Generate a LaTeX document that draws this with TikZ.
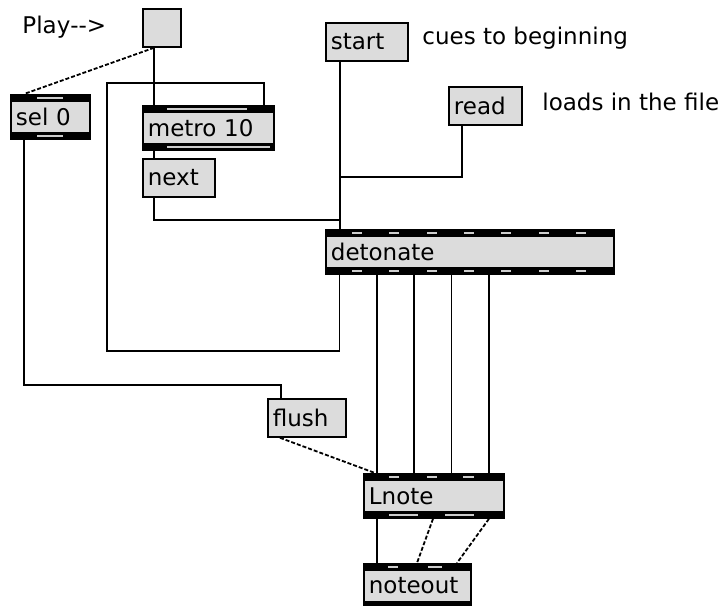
\documentclass[tikz,border=0pt]{standalone}
\usepackage{fontspec}
\newfontfamily\patchfont{DejaVu Sans}
\usetikzlibrary{calc,positioning}
\definecolor{boxgray}{RGB}{220,220,220}
\definecolor{portgray}{RGB}{205,205,205}

\begin{document}
\begin{tikzpicture}[
    x=0.5pt, y=-0.5pt,
    font=\patchfont\fontsize{11.5}{13}\selectfont,
    box/.style={draw, fill=boxgray, line width=0.9pt, anchor=north west, inner xsep=2.5pt, inner ysep=0pt, align=left, text width=#1},
    msg/.style={box=#1, minimum height=19pt},
    obj/.style={box=#1, minimum height=22pt,
        path picture={
            \fill[black] (path picture bounding box.north west) rectangle ([yshift=-3.5pt]path picture bounding box.north east);
            \fill[black] (path picture bounding box.south west) rectangle ([yshift=3.5pt]path picture bounding box.south east);
        }},
    togglebox/.style={draw, fill=boxgray, line width=0.9pt, anchor=north west, inner sep=0pt, minimum size=19pt},
    note/.style={anchor=west, inner sep=1pt},
    cord/.style={line width=0.9pt},
    slant/.style={cord, dash pattern=on 2pt off 1pt}
]
\useasboundingbox (0,0) rectangle (725,606);

\node[note] (play) at (20,27) {Play\mbox{-}\mbox{-}>};
\node[togglebox] (tog) at (142,8) {};
\node[obj=34.5pt] (sel) at (10,94) {sel 0};
\node[obj=60.5pt] (metro) at (142,105) {metro 10};
\node[msg=31pt] (next) at (142,158) {next};
\node[msg=36pt] (start) at (325,22) {start};
\node[note] (cues) at (420,38) {cues to beginning};
\node[msg=31.5pt] (read) at (448,86) {read};
\node[note] (loads) at (540,102) {loads in the file};
\node[obj=139pt] (det) at (325,229) {detonate};
\node[msg=34pt] (flush) at (267,398) {flush};
\node[obj=65pt] (lnote) at (363,473) {Lnote};
\node[obj=48.5pt] (noteout) at (363,563) {noteout};

% inlet / outlet marks
\foreach \n/\f/\t in {sel/27/53, metro/25/105, lnote/26/36, lnote/64/74, lnote/100/111, noteout/25/35, noteout/65/79}
  \fill[portgray] ($(\n.north west)+(\f,2.5)$) rectangle ($(\n.north west)+(\t,4.5)$);
\foreach \n/\f/\t in {sel/27/53, metro/25/128, lnote/26/55, lnote/82/111}
  \fill[portgray] ($(\n.south west)+(\f,-4.5)$) rectangle ($(\n.south west)+(\t,-2.5)$);
\foreach \k in {0,...,6} {
  \fill[portgray] ($(det.north west)+(27+37.3*\k,2.5)$) rectangle ++(10,2);
  \fill[portgray] ($(det.south west)+(27+37.3*\k,-4.5)$) rectangle ++(10,2);
}

% patch cords
\draw[slant] ($(tog.south west)+(12,0)$) -- ($(sel.north west)+(14,0)$);
\draw[cord] ($(tog.south west)+(12,0)$) -- ($(metro.north west)+(12,0)$);
\draw[cord] ($(metro.south west)+(12,0)$) -- ($(next.north west)+(12,0)$);
\draw[cord] ($(next.south west)+(12,0)$) |- ($(det.north west)+(15,-9)$) -- ($(det.north west)+(15,0)$);
\draw[cord] ($(start.south west)+(15,0)$) -- ($(det.north west)+(15,0)$);
\draw[cord] ($(read.south west)+(14,0)$) |- ($(det.north west)+(15,-52)$);
\draw[cord] ($(det.south west)+(14.5,0)$) -- ++(0,76) -| (107,83) -| ($(metro.north east)+(-11,0)$);
\draw[cord] ($(sel.south west)+(14,0)$) |- ($(flush.north west)+(14,-13)$) -- ($(flush.north west)+(14,0)$);
\draw[slant] ($(flush.south west)+(13,0)$) -- ($(lnote.north west)+(12,0)$);
\foreach \k in {1,...,4}
  \draw[cord] ($(det.south west)+(14.5+37.3*\k,0)$) coordinate (o) -- (o |- lnote.north);
\draw[cord] ($(lnote.south west)+(14,0)$) -- ($(noteout.north west)+(14,0)$);
\draw[slant] ($(lnote.south west)+(70,0)$) -- ($(noteout.north west)+(54,0)$);
\draw[slant] ($(lnote.south west)+(126,0)$) -- ($(noteout.north west)+(94,0)$);
\end{tikzpicture}
\end{document}
